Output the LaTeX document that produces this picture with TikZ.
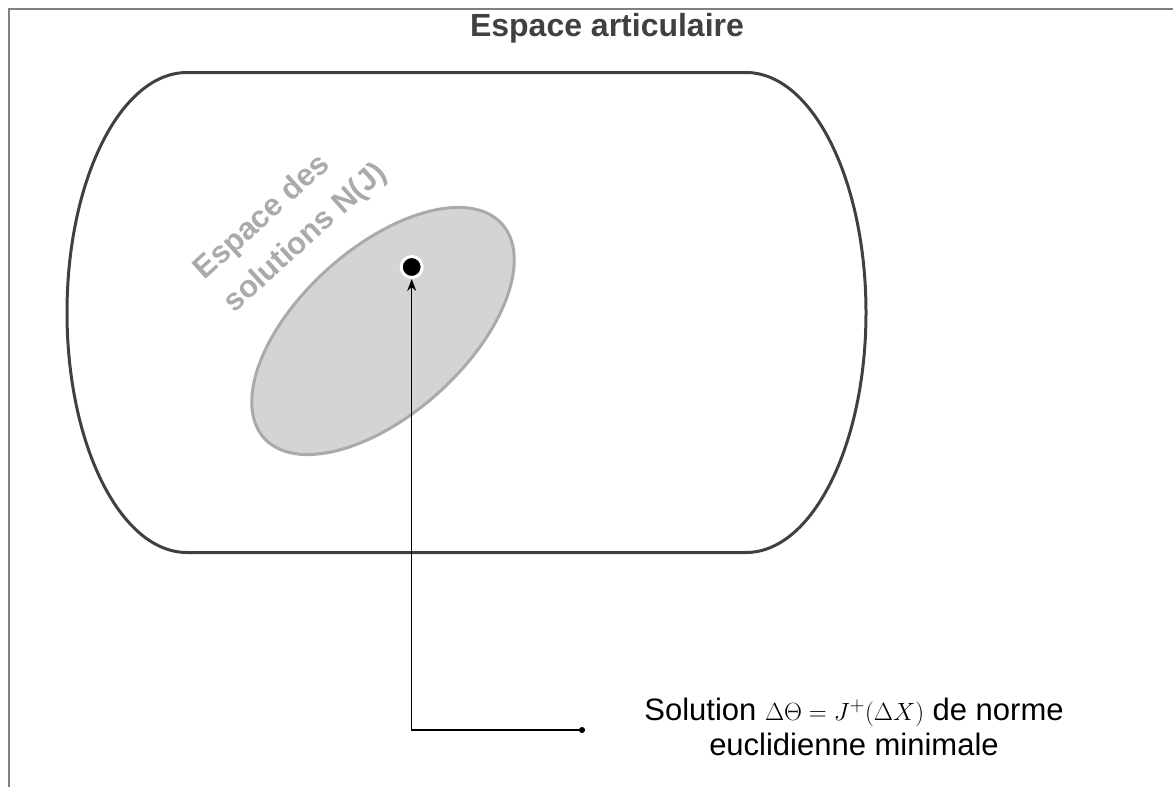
\documentclass[tikz,border=0pt]{standalone}
\usepackage{fontspec}
\setmainfont{Liberation Sans}
\usetikzlibrary{arrows.meta}

\begin{document}
\begin{tikzpicture}[x=1pt, y=-1pt,
  frame/.style={draw=framecolor, line width=2pt},
  outline/.style={draw=shapecolor, line width=3pt},
  nullspace/.style={draw=nullcolor, fill=nullfill, line width=3pt},
  soldot/.style={circle, fill=black, draw=white, line width=3pt, minimum size=21pt, inner sep=0pt},
  leader/.style={line width=1.5pt, {Circle[length=6pt]}-{Stealth[length=12pt, width=9pt]}},
  titletext/.style={text=shapecolor, font=\fontsize{32}{38}\selectfont\bfseries},
  nulltext/.style={text=nullcolor, font=\fontsize{31}{44}\selectfont\bfseries, align=left},
  notetext/.style={font=\fontsize{31}{35}\selectfont, align=center}]

\definecolor{framecolor}{RGB}{128, 128, 128}
\definecolor{shapecolor}{RGB}{64, 64, 64}
\definecolor{nullcolor}{RGB}{170, 170, 170}
\definecolor{nullfill}{RGB}{212, 212, 212}

\useasboundingbox (0, 0) rectangle (1173, 787);
\draw[frame] (1173, 8.5) -- (8.5, 8.5) -- (8.5, 787);

% joint space
\draw[outline] (187, 72.5) arc[start angle=270, end angle=90, x radius=120, y radius=240]
  -- (746, 552.5) arc[start angle=90, end angle=-90, x radius=120, y radius=240] -- cycle;
\node[titletext] (title) at (607, 28) {Espace articulaire};

% null space of J
\draw[nullspace] (383, 331) ellipse [x radius=160, y radius=83, rotate=42];
\node[nulltext, rotate=42] (nullname) at (291, 222) {Espace des\\solutions N(J)};

\node[soldot] (sol) at (411.7, 267) {};
\node[notetext] (note) at (854, 727) {Solution $\Delta\Theta = J^{+}(\Delta X)$ de norme\\euclidienne minimale};

\coordinate (leadend) at (585, 730);
\coordinate (corner) at (sol |- leadend);
\draw[leader] (leadend) -- (corner) -- (sol);

\end{tikzpicture}
\end{document}
